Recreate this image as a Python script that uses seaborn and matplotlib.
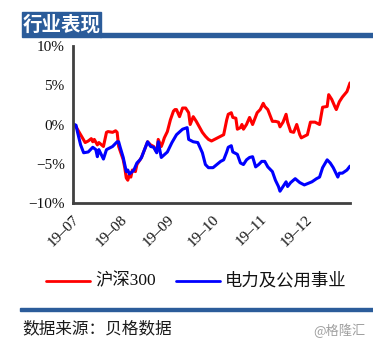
import matplotlib
matplotlib.use("Agg")
import matplotlib.pyplot as plt
from matplotlib.ticker import FuncFormatter
import seaborn as sns
import pandas as pd

# ---------------- data ----------------
hs300_dates = [
    "2019-07-01", "2019-07-03", "2019-07-06", "2019-07-09", "2019-07-11", "2019-07-13", "2019-07-14",
    "2019-07-15", "2019-07-17", "2019-07-18", "2019-07-21", "2019-07-23", "2019-07-24", "2019-07-27",
    "2019-07-29", "2019-07-30", "2019-07-31", "2019-08-03", "2019-08-04", "2019-08-05", "2019-08-06",
    "2019-08-07", "2019-08-08", "2019-08-09", "2019-08-11", "2019-08-12", "2019-08-14", "2019-08-15",
    "2019-08-17", "2019-08-19", "2019-08-21", "2019-08-23", "2019-08-25", "2019-08-26", "2019-08-28",
    "2019-08-29", "2019-08-30", "2019-09-01", "2019-09-03", "2019-09-05", "2019-09-06", "2019-09-07",
    "2019-09-09", "2019-09-11", "2019-09-13", "2019-09-15", "2019-09-16", "2019-09-18", "2019-09-20",
    "2019-09-22", "2019-09-24", "2019-09-26", "2019-09-28", "2019-09-30", "2019-10-03", "2019-10-06",
    "2019-10-08", "2019-10-10", "2019-10-11", "2019-10-13", "2019-10-14", "2019-10-16", "2019-10-17",
    "2019-10-19", "2019-10-20", "2019-10-21", "2019-10-23", "2019-10-25", "2019-10-27", "2019-10-30",
    "2019-11-01", "2019-11-03", "2019-11-04", "2019-11-06", "2019-11-09", "2019-11-11", "2019-11-13",
    "2019-11-14", "2019-11-16", "2019-11-18", "2019-11-19", "2019-11-21", "2019-11-23", "2019-11-25",
    "2019-11-27", "2019-11-28", "2019-12-02", "2019-12-04", "2019-12-07", "2019-12-10", "2019-12-12",
    "2019-12-15", "2019-12-16", "2019-12-18", "2019-12-20", "2019-12-21", "2019-12-23", "2019-12-25",
    "2019-12-28", "2019-12-30",
]
hs300_values = [
    0.0, -0.3, -1.3, -2.3, -2.1, -1.8, -2.2,
    -1.9, -2.6, -2.3, -2.8, -1.0, -0.9, -1.0,
    -0.8, -1.0, -2.8, -4.5, -5.5, -6.8, -7.1,
    -6.4, -6.7, -5.8, -6.0, -5.1, -4.5, -4.2,
    -3.2, -2.2, -2.6, -2.8, -3.5, -1.9, -2.8,
    -2.3, -1.7, -0.9, 0.6, 1.7, 1.9, 1.9,
    1.0, 2.1, 2.1, 1.5, 0.0, 1.0, 0.4,
    -0.3, -1.0, -1.5, -1.9, -2.1, -1.8, -1.5,
    -1.3, 0.6, 1.3, 1.5, 0.9, 0.8, -0.6,
    -0.4, 0.0, -0.6, 0.0, 0.9, 0.0, 1.5,
    1.9, 2.7, 2.3, 1.9, 0.4, 0.4, 0.3,
    -0.3, 0.3, 1.3, 0.3, -0.9, -1.0, 0.0,
    -1.3, -1.7, -1.3, 0.3, 0.3, 0.0, 2.2,
    2.3, 3.8, 3.2, 2.3, 1.9, 2.9, 3.5,
    4.2, 5.3,
]

power_dates = [
    "2019-07-01", "2019-07-03", "2019-07-04", "2019-07-06", "2019-07-08", "2019-07-11", "2019-07-14",
    "2019-07-16", "2019-07-17", "2019-07-18", "2019-07-21", "2019-07-23", "2019-07-27", "2019-07-30",
    "2019-07-31", "2019-08-01", "2019-08-03", "2019-08-05", "2019-08-06", "2019-08-07", "2019-08-09",
    "2019-08-10", "2019-08-12", "2019-08-14", "2019-08-15", "2019-08-19", "2019-08-21", "2019-08-23",
    "2019-08-25", "2019-08-26", "2019-08-28", "2019-09-01", "2019-09-04", "2019-09-07", "2019-09-11",
    "2019-09-14", "2019-09-15", "2019-09-18", "2019-09-21", "2019-09-24", "2019-09-26", "2019-09-28",
    "2019-10-01", "2019-10-06", "2019-10-08", "2019-10-10", "2019-10-11", "2019-10-13", "2019-10-14",
    "2019-10-17", "2019-10-19", "2019-10-21", "2019-10-23", "2019-10-25", "2019-10-27", "2019-10-29",
    "2019-10-31", "2019-11-02", "2019-11-04", "2019-11-06", "2019-11-09", "2019-11-11", "2019-11-13",
    "2019-11-14", "2019-11-16", "2019-11-18", "2019-11-19", "2019-11-21", "2019-11-24", "2019-11-27",
    "2019-11-30", "2019-12-05", "2019-12-08", "2019-12-10", "2019-12-12", "2019-12-15", "2019-12-17",
    "2019-12-19", "2019-12-22", "2019-12-23", "2019-12-25", "2019-12-28", "2019-12-30",
]
power_values = [
    0.1, -0.1, -1.0, -2.6, -3.6, -3.5, -2.9,
    -3.2, -4.1, -3.2, -4.4, -3.2, -2.8, -2.2,
    -2.2, -2.9, -4.2, -6.0, -5.8, -6.3, -6.0,
    -5.8, -4.9, -4.5, -4.2, -2.2, -2.8, -2.9,
    -3.6, -2.2, -4.2, -3.5, -2.3, -1.3, -0.6,
    -0.4, -1.9, -2.2, -2.3, -3.6, -5.1, -5.5,
    -5.5, -4.7, -4.5, -3.5, -2.9, -2.7, -3.5,
    -3.8, -4.9, -5.1, -4.5, -4.2, -4.1, -5.4,
    -5.1, -4.7, -4.7, -5.4, -6.0, -7.1, -7.9,
    -8.5, -7.9, -7.3, -7.9, -7.4, -6.9, -7.4,
    -7.7, -7.3, -6.9, -6.7, -5.5, -4.5, -4.9,
    -5.5, -6.7, -6.2, -6.2, -5.8, -5.3,
]

series_names = ["沪深300", "电力及公用事业"]
series_colors = ["#FF0000", "#0000FF"]
y_ticks = [-10, -5, 0, 5, 10]
x_tick_labels = ["19–07", "19–08", "19–09", "19–10", "19–11", "19–12"]
x_tick_dates = ["2019-07-01", "2019-08-01", "2019-09-01", "2019-10-01", "2019-11-01", "2019-12-01"]

title_text = "行业表现"
source_text = "数据来源：贝格数据"
watermark_text = "@格隆汇"

# ---------------- build frame ----------------
df = pd.concat([
    pd.DataFrame({"date": pd.to_datetime(hs300_dates), "value": hs300_values, "series": series_names[0]}),
    pd.DataFrame({"date": pd.to_datetime(power_dates), "value": power_values, "series": series_names[1]}),
], ignore_index=True)

sns.set_style("white")
plt.rcParams["font.family"] = ["Liberation Serif", "Noto Sans CJK SC"]

W, H = 373, 348
fig = plt.figure(figsize=(W / 100, H / 100), dpi=100)
ax = fig.add_axes([73 / W, 1 - 203 / H, (350 - 73) / W, (203 - 46) / H])

sns.lineplot(data=df, x="date", y="value", hue="series", hue_order=series_names,
             palette=series_colors, linewidth=2.2, ax=ax, legend=False, estimator=None, sort=True)

ax.set_ylim(-10, 10)
ax.set_yticks(y_ticks)
ax.yaxis.set_major_formatter(FuncFormatter(lambda v, p: ("−" if v < 0 else "") + f"{abs(int(v))}%"))
ax.set_xlim(pd.Timestamp("2019-07-01"), pd.Timestamp("2019-12-30"))
ax.set_xticks(pd.to_datetime(x_tick_dates))
ax.set_xticklabels(x_tick_labels, rotation=45, ha="right", rotation_mode="anchor")
ax.set_xlabel("")
ax.set_ylabel("")

for s in ["top", "right"]:
    ax.spines[s].set_visible(False)
for s in ["left", "bottom"]:
    ax.spines[s].set_color("#404040")
    ax.spines[s].set_linewidth(2)
ax.tick_params(axis="both", direction="out", length=4, width=1.5, color="#404040",
               labelsize=11, labelcolor="#111111", pad=2)
ax.tick_params(axis="x", pad=3)
for lab in ax.get_yticklabels() + ax.get_xticklabels():
    lab.set_family(["Liberation Serif", "Noto Sans CJK SC"])

# ---------------- title band ----------------
band_color = "#2B5C9A"
fig.patches.append(matplotlib.patches.Rectangle((22 / W, 1 - 37 / H), (101 - 22) / W, 25 / H,
                                                 transform=fig.transFigure, color=band_color, zorder=0))
fig.patches.append(matplotlib.patches.Rectangle((100 / W, 1 - 37 / H), (W - 100) / W, 3.5 / H,
                                                 transform=fig.transFigure, color=band_color, zorder=0))
fig.text(23 / W, 1 - 24.5 / H, title_text, color="white", fontsize=14, fontweight="bold",
         va="center", ha="left", family=["Noto Sans CJK SC"])

# ---------------- legend ----------------
lx = [(46, 90, 95), (176, 220, 225)]
for (x0, x1, tx), name, col in zip(lx, series_names, series_colors):
    fig.add_artist(matplotlib.lines.Line2D([x0 / W, x1 / W], [1 - 281 / H, 1 - 281 / H],
                                           color=col, linewidth=2, transform=fig.transFigure))
    fig.text(tx / W, 1 - 281 / H, name, fontsize=12.5, va="center", ha="left", color="#111111",
             family=["Liberation Serif", "Noto Sans CJK SC"])

# ---------------- footer ----------------
fig.patches.append(matplotlib.patches.Rectangle((20 / W, 1 - 311 / H), (W - 20) / W, 3 / H,
                                                 transform=fig.transFigure, color=band_color, zorder=0))
fig.text(22 / W, 1 - 329 / H, source_text, fontsize=12, style="italic", va="center", ha="left",
         color="#1a1a1a", family=["Noto Sans CJK SC"])
fig.text(366 / W, 1 - 331 / H, watermark_text, fontsize=9.5, va="center", ha="right",
         color="#A0A0A0", family=["Noto Sans CJK SC", "DejaVu Sans"])

fig.savefig("out.png", dpi=100)
